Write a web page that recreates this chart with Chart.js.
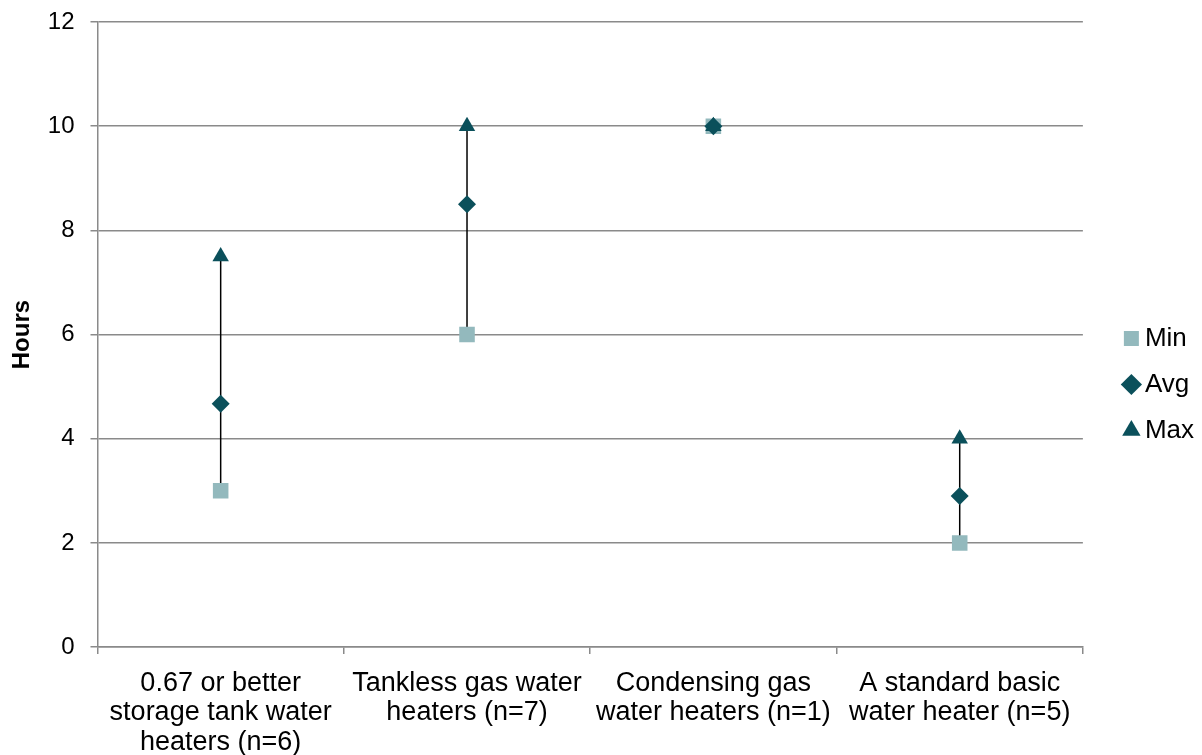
<!DOCTYPE html>
<html>
<head>
<meta charset="utf-8">
<script src="https://cdn.jsdelivr.net/npm/chart.js@4/dist/chart.umd.min.js"></script>
<style>
  html, body { margin: 0; padding: 0; background: #fff; }
  #wrap { width: 1202px; height: 755px; }
</style>
</head>
<body>
<div id="wrap"><canvas id="chart"></canvas></div>
<script>
var categories = [
  ["0.67 or better", "storage tank water", "heaters (n=6)"],
  ["Tankless gas water", "heaters (n=7)"],
  ["Condensing gas", "water heaters (n=1)"],
  ["A standard basic", "water heater (n=5)"]
];
var minHours = [3, 6, 10, 2];
var avgHours = [4.67, 8.5, 10, 2.9];
var maxHours = [7.5, 10, 10, 4];
var yTicks = [0, 2, 4, 6, 8, 10, 12];

var lightTeal = '#93b9bd';
var darkTeal = '#0b505b';
var gridGray = '#8a8a8a';
var fontFam = 'Liberation Sans, Arial';
var rightGap = 26;

// vertical black line from min to max of each category
var highLow = {
  id: 'highLow',
  beforeDatasetsDraw: function (chart) {
    var ctx = chart.ctx;
    var x = chart.scales.x, y = chart.scales.y;
    ctx.save();
    ctx.strokeStyle = '#000';
    ctx.lineWidth = 1.5;
    for (var i = 0; i < categories.length; i++) {
      var px = x.getPixelForValue(i);
      ctx.beginPath();
      ctx.moveTo(px, y.getPixelForValue(minHours[i]));
      ctx.lineTo(px, y.getPixelForValue(maxHours[i]));
      ctx.stroke();
    }
    ctx.restore();
  }
};

// push the legend to the right edge, leaving a gap after the plot
var legendShift = {
  id: 'legendShift',
  afterLayout: function (chart) {
    if (chart.legend) {
      chart.legend.left += rightGap + 2;
      chart.legend.right += rightGap + 2;
      chart.legend.top -= 4;
      chart.legend.bottom -= 4;
    }
  }
};

var canvas = document.getElementById('chart');
var context = canvas.getContext('2d');

var chart = new Chart(context, {
  type: 'line',
  data: {
    labels: categories,
    datasets: [
      {
        label: 'Min',
        data: minHours,
        order: 2,
        showLine: false,
        pointStyle: 'rect',
        pointRadius: 11,
        pointHoverRadius: 11,
        backgroundColor: lightTeal,
        borderColor: lightTeal,
        borderWidth: 0
      }, {
        label: 'Avg',
        data: avgHours,
        order: 1,
        showLine: false,
        pointStyle: 'rectRot',
        pointRadius: 9,
        pointHoverRadius: 9,
        backgroundColor: darkTeal,
        borderColor: darkTeal,
        borderWidth: 0
      }, {
        label: 'Max',
        data: maxHours,
        order: 0,
        showLine: false,
        pointStyle: 'triangle',
        pointRadius: 9.5,
        pointHoverRadius: 9.5,
        backgroundColor: darkTeal,
        borderColor: darkTeal,
        borderWidth: 0
      }
    ]
  },
  options: {
    responsive: true,
    maintainAspectRatio: false,
    animation: false,
    layout: { padding: { left: 8, right: rightGap, top: 22, bottom: 0 } },
    plugins: {
      tooltip: { enabled: false },
      legend: {
        position: 'right',
        labels: {
          usePointStyle: true,
          boxWidth: 1,
          boxHeight: 15,
          padding: 20,
          color: '#000',
          font: { family: fontFam, size: 26 },
          sort: function (a, b) { return a.datasetIndex - b.datasetIndex; }
        }
      }
    },
    scales: {
      x: {
        offset: true,
        afterFit: function (axis) {
          axis.paddingLeft = 0;
          axis.paddingRight = 0;
          axis.height -= axis.options.ticks.padding + 3;
        },
        grid: {
          offset: true,
          drawOnChartArea: false,
          drawTicks: true,
          tickLength: 7,
          color: gridGray,
          lineWidth: 1.5
        },
        border: { color: gridGray, width: 1.5 },
        ticks: {
          color: '#000',
          maxRotation: 0,
          autoSkip: false,
          padding: 14,
          font: { family: fontFam, size: 27, lineHeight: 1.11 }
        }
      },
      y: {
        min: 0,
        max: 12,
        afterBuildTicks: function (axis) {
          axis.ticks = yTicks.map(function (v) { return { value: v }; });
        },
        afterFit: function (axis) {
          axis.paddingTop = 0;
          axis.paddingBottom = 0;
          axis.width -= axis.options.ticks.padding;
        },
        grid: {
          color: gridGray,
          lineWidth: 1.5,
          drawTicks: true,
          tickLength: 7
        },
        border: { color: gridGray, width: 1.5 },
        ticks: {
          color: '#000',
          padding: 16,
          font: { family: fontFam, size: 24 }
        },
        title: {
          display: true,
          text: 'Hours',
          color: '#000',
          padding: { top: 0, bottom: 11 },
          font: { family: fontFam, size: 24, weight: 'bold' }
        }
      }
    }
  },
  plugins: [highLow, legendShift]
});
</script>
</body>
</html>
